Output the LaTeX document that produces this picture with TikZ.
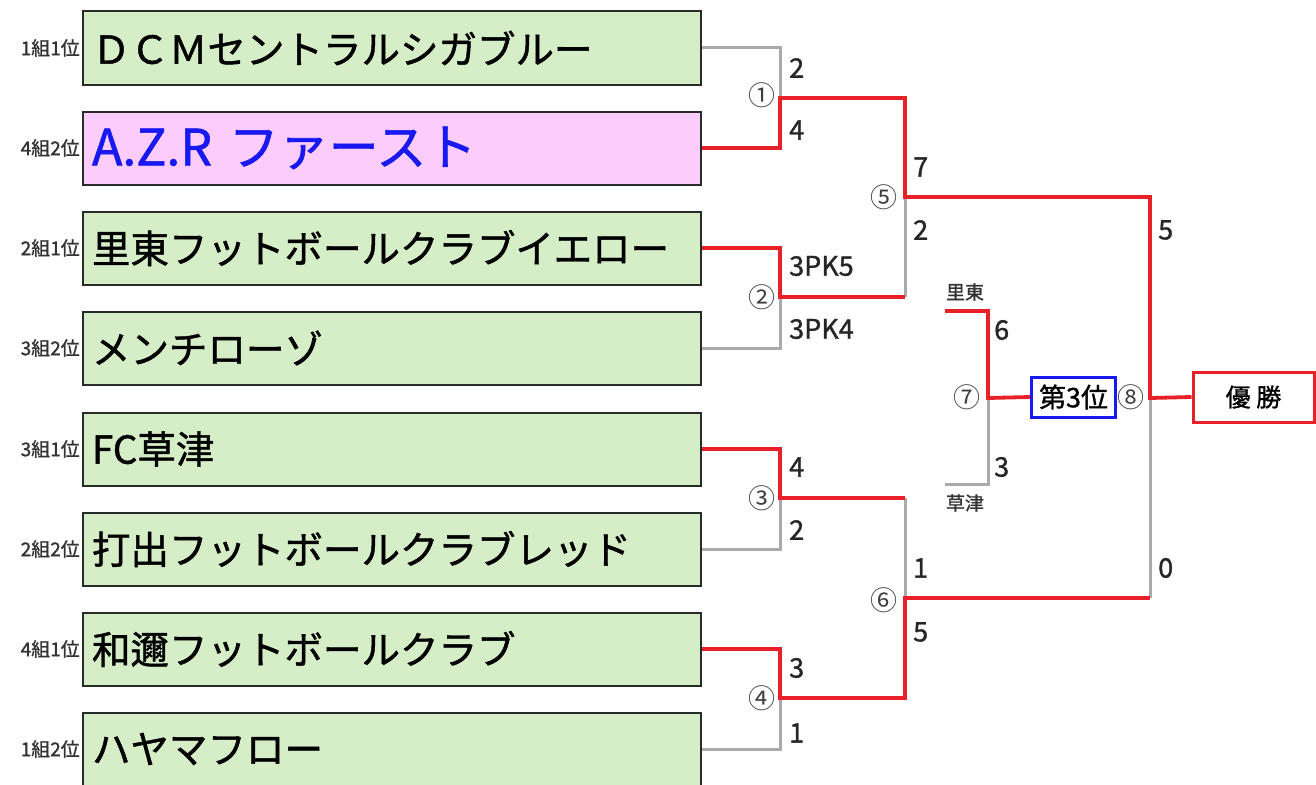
\documentclass[tikz,border=0pt]{standalone}
\usepackage{fontspec}
\setmainfont{Noto Sans CJK JP}
\newfontface\heavyfont{Noto Sans CJK JP}[FakeBold=1.2]
\usetikzlibrary{positioning}
\definecolor{teamgreen}{RGB}{214,238,200}
\definecolor{teampink}{RGB}{252,204,252}
\definecolor{winred}{RGB}{232,32,40}
\definecolor{losegray}{RGB}{170,170,170}
\definecolor{azrblue}{RGB}{24,24,240}
\definecolor{boxedge}{RGB}{40,44,40}
\newcommand\teamfont{\heavyfont\fontsize{38.5}{38.5}\selectfont}

\begin{document}
\begin{tikzpicture}[x=1pt, y=-1pt,
  team/.style = {draw=boxedge, line width=2pt, fill=teamgreen, minimum width=618pt, minimum height=73pt, inner xsep=9pt, text width=600pt, align=left, font=\teamfont},
  grp/.style = {inner sep=0pt, text=black!80, font=\heavyfont\fontsize{19}{19}\selectfont},
  score/.style = {anchor=west, inner sep=0pt, text=black!85, font=\heavyfont\fontsize{27}{27}\selectfont},
  rnd/.style = {inner sep=0pt, text=black!75, font=\fontsize{27}{27}\selectfont},
  win/.style = {draw=winred, line width=3.8pt},
  lose/.style = {draw=losegray, line width=3pt}]
\useasboundingbox (0,0) rectangle (1316,784);

% teams
\node[team] (t1) at (392,48) {ＤＣＭセントラルシガブルー};
\node[team, fill=teampink, text=azrblue, font=\heavyfont\fontsize{50}{50}\selectfont] (t2) at (392,148) {A.Z.R ファースト};
\node[team] (t3) at (392,248) {里東フットボールクラブイエロー};
\node[team] (t4) at (392,348) {メンチローゾ};
\node[team] (t5) at (392,449) {FC草津};
\node[team] (t6) at (392,549) {打出フットボールクラブレッド};
\node[team] (t7) at (392,649) {和邇フットボールクラブ};
\node[team] (t8) at (392,749) {ハヤマフロー};
\node[grp, left=2pt of t1] (g1) {1組1位};
\node[grp, left=2pt of t2] (g2) {4組2位};
\node[grp, left=2pt of t3] (g3) {2組1位};
\node[grp, left=2pt of t4] (g4) {3組2位};
\node[grp, left=2pt of t5] (g5) {3組1位};
\node[grp, left=2pt of t6] (g6) {2組2位};
\node[grp, left=2pt of t7] (g7) {4組1位};
\node[grp, left=2pt of t8] (g8) {1組2位};

% junctions
\coordinate (m1) at (780,98);
\coordinate (m2) at (780,297);
\coordinate (m3) at (780,498);
\coordinate (m4) at (780,698);
\coordinate (m5) at (905,197);
\coordinate (m6) at (905,598);
\coordinate (m8) at (1150,398);
\coordinate (s7a) at (945,311);
\coordinate (s7b) at (945,484);
\coordinate (m7) at (988,398);

\node[draw=winred, line width=3pt, minimum width=121pt, minimum height=50pt, font=\heavyfont\fontsize{25}{25}\selectfont] (champ) at (1253.5,397) {優 勝};
\node[draw=azrblue, line width=3pt, minimum width=84pt, minimum height=40pt, inner sep=0pt, font=\heavyfont\fontsize{27}{27}\selectfont] (third) at (1073.5,397) {第3位};

% losers
\draw[lose] (t1.east) -| (m1);
\draw[lose] (t4.east) -| (m2);
\draw[lose] (t6.east) -| (m3);
\draw[lose] (t8.east) -| (m4);
\draw[lose] (m2 -| m5) -- (m5);
\draw[lose] (m3 -| m6) -- (m6);
\draw[lose] (m6 -| m8) -- (m8);
\draw[lose] (s7b) -| (m7);
% winners
\draw[win] (t2.east) -| (m1) -| (m5) -| (m8) -- (champ.west);
\draw[win] (t3.east) -| (m2) -- (m2 -| m5);
\draw[win] (t5.east) -| (m3) -- (m3 -| m6);
\draw[win] (t7.east) -| (m4) -| (m6) -- (m6 -| m8);
\draw[win] (s7a) -| (m7) -- (third.west);

% match numbers
\node[rnd] (r1) at (762,95) {①};
\node[rnd] (r2) at (762,297) {②};
\node[rnd] (r3) at (762,498) {③};
\node[rnd] (r4) at (762,698) {④};
\node[rnd] (r5) at (884,197) {⑤};
\node[rnd] (r6) at (884,600) {⑥};
\node[rnd] (r7) at (967,397) {⑦};
\node[rnd] (r8) at (1131,397) {⑧};

% scores
\node[score] (a1) at (789,68) {2};
\node[score] (a2) at (789,130) {4};
\node[score] (a3) at (789,266) {3PK5};
\node[score] (a4) at (789,329) {3PK4};
\node[score] (a5) at (789,467) {4};
\node[score] (a6) at (789,530) {2};
\node[score] (a7) at (789,668) {3};
\node[score] (a8) at (789,733) {1};
\node[score] (b1) at (913,167) {7};
\node[score] (b2) at (913,230) {2};
\node[score] (b3) at (913,568) {1};
\node[score] (b4) at (913,632) {5};
\node[score] (c1) at (1158,230) {5};
\node[score] (c2) at (1158,568) {0};
\node[score] (d1) at (994,330) {6};
\node[score] (d2) at (994,467) {3};
\node[grp] (n1) at (965,292) {里東};
\node[grp] (n2) at (965,503) {草津};
\end{tikzpicture}
\end{document}
